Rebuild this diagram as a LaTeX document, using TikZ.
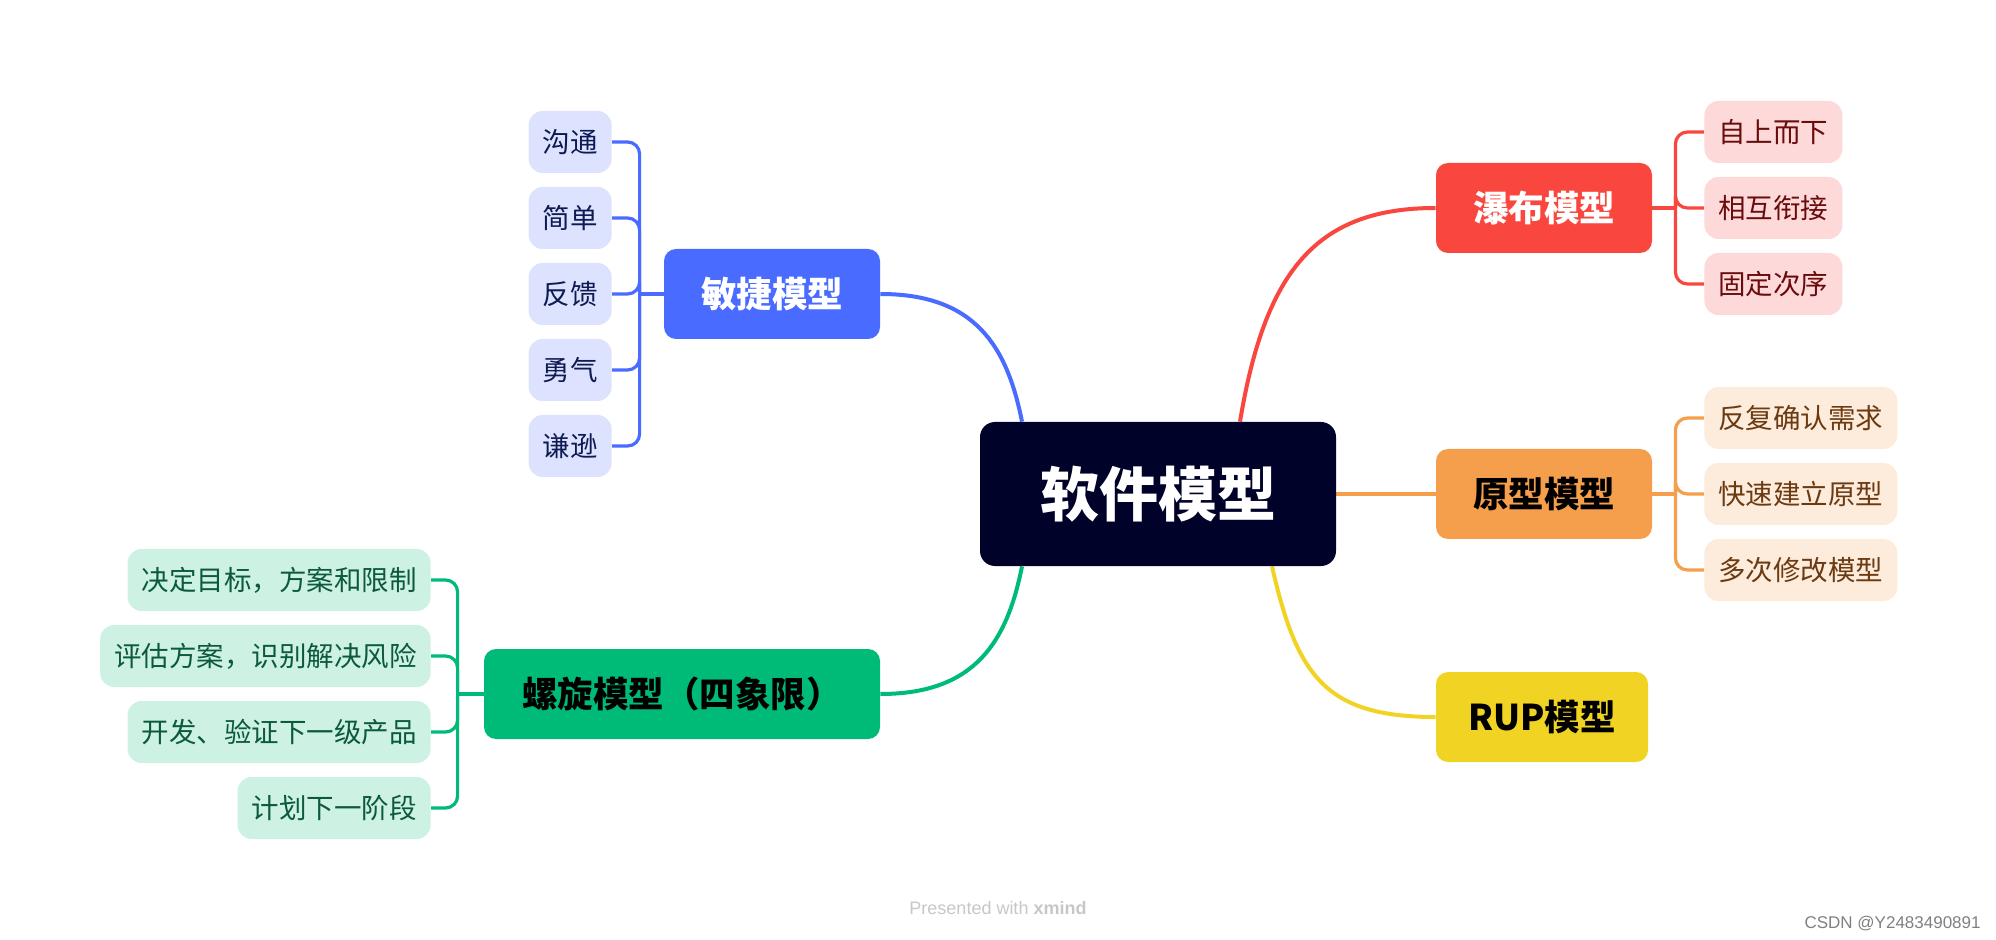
\documentclass[tikz,border=0pt]{standalone}
\usepackage{fontspec}
\newfontfamily\cjk{Noto Sans CJK SC}
\newfontfamily\lat{Liberation Sans}
\usetikzlibrary{calc,backgrounds}
\definecolor{rootc}{HTML}{000229}
\definecolor{cblue}{HTML}{4A6BFF}
\definecolor{cbluelt}{HTML}{DDE3FF}
\definecolor{cbluetx}{HTML}{0E1A52}
\definecolor{cred}{HTML}{F9463F}
\definecolor{credlt}{HTML}{FED9D9}
\definecolor{credtx}{HTML}{6A0C0C}
\definecolor{corange}{HTML}{F59E4C}
\definecolor{corangelt}{HTML}{FDEBDC}
\definecolor{corangetx}{HTML}{6B3A10}
\definecolor{cyellow}{HTML}{F1D423}
\definecolor{cgreen}{HTML}{00BB78}
\definecolor{cgreenlt}{HTML}{CDF1E3}
\definecolor{cgreentx}{HTML}{0C5A3C}
\begin{document}
\begin{tikzpicture}[x=0.5pt,y=-0.5pt,
  rootbox/.style={fill=rootc,text=white,rounded corners=7.5pt,minimum width=178pt,minimum height=72pt,inner sep=0pt,font=\cjk\bfseries\fontsize{29.5}{34}\selectfont},
  topic/.style={rounded corners=6pt,minimum width=108pt,minimum height=45pt,inner sep=0pt,font=\cjk\bfseries\fontsize{17.75}{20}\selectfont},
  sub/.style={rounded corners=7pt,minimum height=31pt,inner xsep=7pt,inner ysep=0pt,font=\cjk\fontsize{13.75}{16}\selectfont},
  mainline/.style={line width=2pt},
  brk/.style={line width=1.6pt,rounded corners=6pt}]
\useasboundingbox (0,0) rectangle (1996,940);

% root
\node[rootbox] (root) at (1158,494) {软件模型};

% topics
\node[topic,fill=cblue,text=white] (a) at (772,294) {敏捷模型};
\node[topic,fill=cred,text=white] (w) at (1544,208) {瀑布模型};
\node[topic,fill=corange,text=black] (p) at (1544,494) {原型模型};
\node[topic,fill=cyellow,text=black,minimum width=106pt] (r) at (1542,717) {RUP模型};
\node[topic,fill=cgreen,text=black,minimum width=198pt] (s) at (682,694) {螺旋模型（四象限）};

% agile children
\begin{scope}[every node/.style={sub,fill=cbluelt,text=cbluetx,anchor=east}]
\node (a1) at (612,142) {沟通};
\node (a2) at (612,218) {简单};
\node (a3) at (612,294) {反馈};
\node (a4) at (612,370) {勇气};
\node (a5) at (612,446) {谦逊};
\end{scope}

% waterfall children
\begin{scope}[every node/.style={sub,fill=credlt,text=credtx,anchor=west}]
\node (w1) at (1704,132) {自上而下};
\node (w2) at (1704,208) {相互衔接};
\node (w3) at (1704,284) {固定次序};
\end{scope}

% prototype children
\begin{scope}[every node/.style={sub,fill=corangelt,text=corangetx,anchor=west}]
\node (p1) at (1704,418) {反复确认需求};
\node (p2) at (1704,494) {快速建立原型};
\node (p3) at (1704,570) {多次修改模型};
\end{scope}

% spiral children
\begin{scope}[every node/.style={sub,fill=cgreenlt,text=cgreentx,anchor=east}]
\node (s1) at (431,580) {决定目标，方案和限制};
\node (s2) at (431,656) {评估方案，识别解决风险};
\node (s3) at (431,732) {开发、验证下一级产品};
\node (s4) at (431,808) {计划下一阶段};
\end{scope}

% footer texts
\node[text=black!22,font=\lat\fontsize{9}{11}\selectfont,inner sep=0pt] (wm) at (998,908) {Presented with \textbf{xmind}};
\node[text=black!50,font=\lat\fontsize{8.5}{10}\selectfont,anchor=east,inner sep=0pt] (csdn) at (1981,924) {CSDN @Y2483490891};

\begin{pgfonlayer}{background}
% main connectors
\coordinate (rtA) at ($(root.north)+(-136,0)$);
\coordinate (rtW) at ($(root.north)+(82,0)$);
\coordinate (rbS) at ($(root.south)+(-136,0)$);
\coordinate (rbR) at ($(root.south)+(114,0)$);
\draw[mainline,cblue] (a.east) .. controls +(95,0) and +(-15,-75) .. (rtA);
\draw[mainline,cred] (rtW) .. controls +(25,-150) and +(-120,0) .. (w.west);
\draw[mainline,corange] (root.east) -- (p.west);
\draw[mainline,cyellow] (rbR) .. controls +(25,110) and +(-110,0) .. (r.west);
\draw[mainline,cgreen] (s.east) .. controls +(95,0) and +(-15,75) .. (rbS);

% brackets
\coordinate (aB) at ($(a.west)+(-24,0)$);
\draw[brk,cblue] (a.west) -- (aB);
\foreach \c in {a1,a2,a3,a4,a5} \draw[brk,cblue] (\c.east) -| (aB);

\coordinate (wB) at ($(w.east)+(23,0)$);
\draw[brk,cred] (w.east) -- (wB);
\foreach \c in {w1,w2,w3} \draw[brk,cred] (\c.west) -| (wB);

\coordinate (pB) at ($(p.east)+(23,0)$);
\draw[brk,corange] (p.east) -- (pB);
\foreach \c in {p1,p2,p3} \draw[brk,corange] (\c.west) -| (pB);

\coordinate (sB) at ($(s.west)+(-26,0)$);
\draw[brk,cgreen] (s.west) -- (sB);
\foreach \c in {s1,s2,s3,s4} \draw[brk,cgreen] (\c.east) -| (sB);
\end{pgfonlayer}
\end{tikzpicture}
\end{document}
